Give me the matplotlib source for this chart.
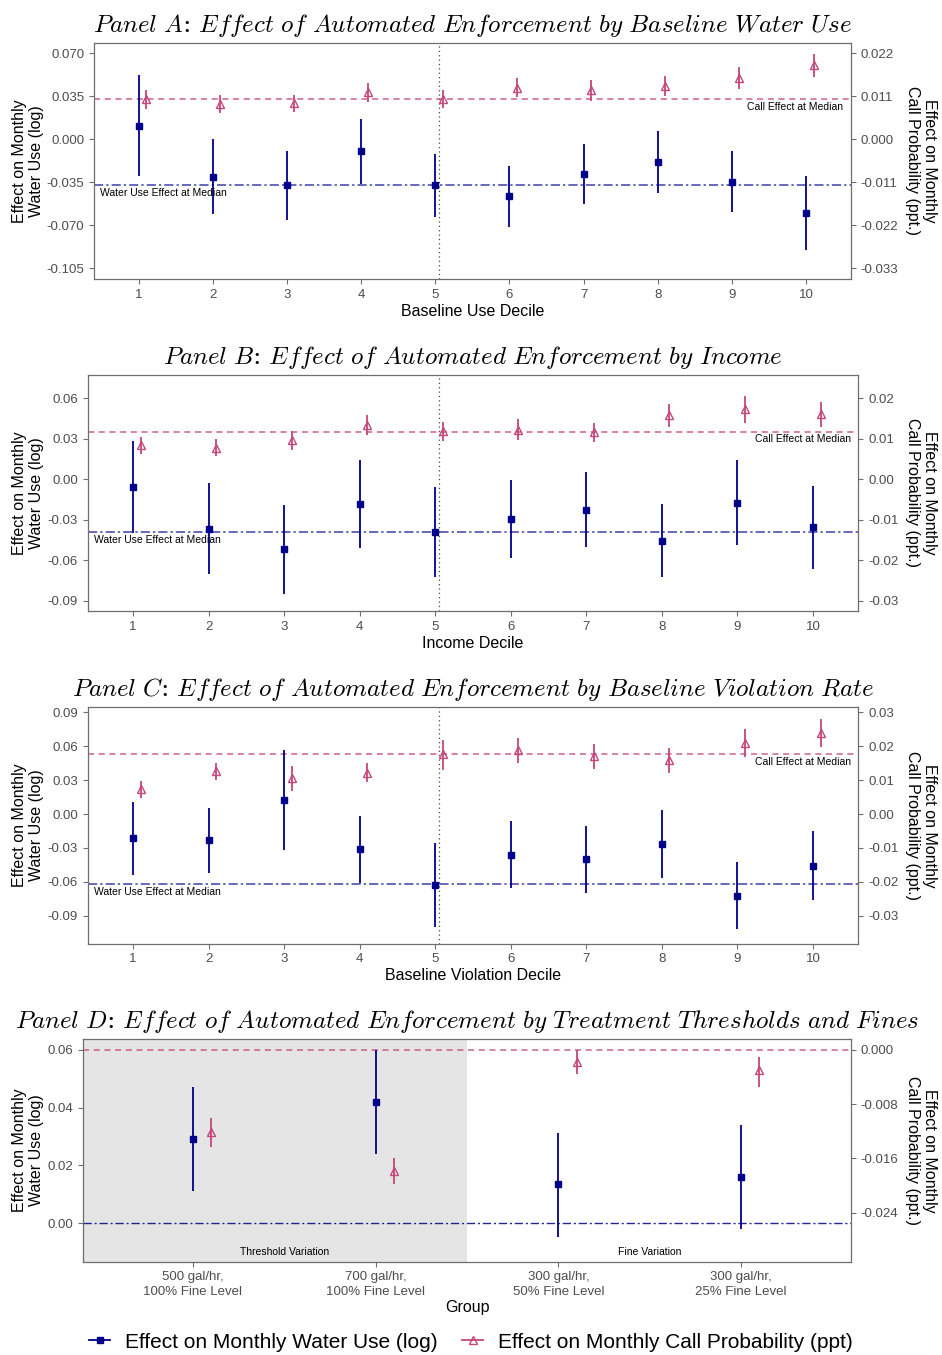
"""
Heterogeneity of automated enforcement effects: water use and call probability
by baseline use, income, violation rate and treatment arm (four stacked panels).
"""

import matplotlib
matplotlib.use("Agg")
import matplotlib.pyplot as plt
import matplotlib.transforms as mtransforms
from matplotlib.lines import Line2D
import numpy as np

plt.rcParams["font.family"] = ["Liberation Sans", "DejaVu Sans"]
plt.rcParams["mathtext.fontset"] = "cm"
plt.rcParams["axes.unicode_minus"] = False

BLUE = "#00008B"
PINK = "#C4467A"
TICK_GREY = "#4D4D4D"
FRAME_GREY = "#6E6E6E"

W, H = 942, 1355

# ---------------------------------------------------------------- data
deciles = np.arange(1, 11)

# Panel A: baseline use decile
a_water = [0.0111, -0.0304, -0.0374, -0.0098, -0.0374, -0.0464, -0.0282, -0.0184, -0.0345, -0.0600]
a_water_lo = [-0.0296, -0.0610, -0.0657, -0.0366, -0.0629, -0.0711, -0.0529, -0.0434, -0.0589, -0.0901]
a_water_hi = [0.0521, 0.0003, -0.0098, 0.0166, -0.0122, -0.0220, -0.0035, 0.0065, -0.0098, -0.0298]
a_call = [0.0103, 0.0090, 0.0092, 0.0121, 0.0104, 0.0132, 0.0126, 0.0136, 0.0156, 0.0189]
a_call_lo = [0.0077, 0.0067, 0.0071, 0.0096, 0.0079, 0.0107, 0.0097, 0.0111, 0.0128, 0.0158]
a_call_hi = [0.0125, 0.0113, 0.0113, 0.0144, 0.0127, 0.0156, 0.0152, 0.0161, 0.0184, 0.0218]
a_water_median = -0.0374
a_call_median = 0.0103

# Panel B: income decile
b_water = [-0.0059, -0.0368, -0.0518, -0.0183, -0.0390, -0.0294, -0.0224, -0.0454, -0.0173, -0.0355]
b_water_lo = [-0.0400, -0.0703, -0.0846, -0.0511, -0.0720, -0.0585, -0.0503, -0.0720, -0.0488, -0.0661]
b_water_hi = [0.0284, -0.0030, -0.0190, 0.0146, -0.0057, -0.0002, 0.0054, -0.0185, 0.0146, -0.0052]
b_call = [0.0086, 0.0078, 0.0097, 0.0134, 0.0119, 0.0123, 0.0117, 0.0158, 0.0173, 0.0161]
b_call_lo = [0.0063, 0.0058, 0.0072, 0.0109, 0.0094, 0.0098, 0.0093, 0.0130, 0.0140, 0.0130]
b_call_hi = [0.0105, 0.0100, 0.0120, 0.0160, 0.0141, 0.0150, 0.0139, 0.0185, 0.0205, 0.0190]
b_water_median = -0.0390
b_call_median = 0.0118

# Panel C: baseline violation decile
c_water = [-0.0215, -0.0233, 0.0127, -0.0312, -0.0625, -0.0360, -0.0401, -0.0265, -0.0722, -0.0457]
c_water_lo = [-0.0536, -0.0525, -0.0318, -0.0610, -0.0999, -0.0657, -0.0695, -0.0566, -0.1014, -0.0763]
c_water_hi = [0.0103, 0.0053, 0.0569, -0.0018, -0.0256, -0.0065, -0.0103, 0.0032, -0.0427, -0.0153]
c_call = [0.0073, 0.0126, 0.0105, 0.0120, 0.0176, 0.0189, 0.0171, 0.0159, 0.0210, 0.0240]
c_call_lo = [0.0048, 0.0099, 0.0068, 0.0094, 0.0130, 0.0151, 0.0133, 0.0122, 0.0169, 0.0197]
c_call_hi = [0.0096, 0.0150, 0.0141, 0.0149, 0.0219, 0.0224, 0.0205, 0.0193, 0.0250, 0.0280]
c_water_median = -0.0622
c_call_median = 0.0176

# Panel D: treatment arms
groups = ["500 gal/hr,\n100% Fine Level", "700 gal/hr,\n100% Fine Level",
          "300 gal/hr,\n50% Fine Level", "300 gal/hr,\n25% Fine Level"]
d_water = [0.0292, 0.0421, 0.0134, 0.0161]
d_water_lo = [0.0112, 0.0238, -0.0047, -0.0021]
d_water_hi = [0.0472, 0.0600, 0.0313, 0.0339]
d_call = [-0.0121, -0.0178, -0.0018, -0.0030]
d_call_lo = [-0.0143, -0.0197, -0.0036, -0.0055]
d_call_hi = [-0.0100, -0.0160, 0.0000, -0.0011]

water_ticks_a = [0.070, 0.035, 0.000, -0.035, -0.070, -0.105]
call_ticks_a = [0.022, 0.011, 0.000, -0.011, -0.022, -0.033]
water_ticks_b = [0.06, 0.03, 0.00, -0.03, -0.06, -0.09]
call_ticks_b = [0.02, 0.01, 0.00, -0.01, -0.02, -0.03]
water_ticks_c = [0.09, 0.06, 0.03, 0.00, -0.03, -0.06, -0.09]
call_ticks_c = [0.03, 0.02, 0.01, 0.00, -0.01, -0.02, -0.03]
water_ticks_d = [0.06, 0.04, 0.02, 0.00]
call_ticks_d = [0.000, -0.008, -0.016, -0.024]

TITLE_KW = dict(fontsize=18, pad=8, family=["DejaVu Serif"])
LABEL_KW = dict(fontsize=11.5, linespacing=1.15)


# ---------------------------------------------------------------- helpers
def px_axes(fig, left, top, right, bottom):
    return fig.add_axes([left / W, 1 - bottom / H, (right - left) / W, (bottom - top) / H])


def style_axes(ax):
    for sp in ax.spines.values():
        sp.set_color(FRAME_GREY)
        sp.set_linewidth(0.9)
    ax.tick_params(colors=FRAME_GREY, labelcolor=TICK_GREY, labelsize=9.5, length=3.5, width=0.8)


def left_label(fig, ax):
    # same x position for every panel, whatever the tick label widths
    ax.set_ylabel("Effect on Monthly\nWater Use (log)", **LABEL_KW)
    trans = mtransforms.blended_transform_factory(fig.transFigure, ax.transAxes)
    ax.yaxis.set_label_coords(44 / W, 0.5, transform=trans)


def mtitle(head, rest):
    # italic CM for the words; colon kept outside math so it has no relation spacing
    esc = lambda s: s.replace(" ", r"\ ")
    return r"$\mathit{" + esc(head) + "}$: " + r"$\mathit{" + esc(rest) + "}$"


def add_secondary(ax, fwd, inv, ticks, fmt):
    sec = ax.secondary_yaxis("right", functions=(inv, fwd))
    sec.set_yticks(ticks)
    sec.set_yticklabels([fmt.format(v) for v in ticks])
    sec.spines["right"].set_visible(False)
    sec.tick_params(colors=FRAME_GREY, labelcolor=TICK_GREY, labelsize=9.5, length=3.5, width=0.8)
    sec.set_ylabel("Effect on Monthly\nCall Probability (ppt.)", rotation=270, labelpad=28, **LABEL_KW)
    return sec


def draw_series(ax, x, water, wlo, whi, call, clo, chi, fwd, offset=0.1):
    x = np.asarray(x, dtype=float)
    ax.vlines(x, wlo, whi, color=BLUE, lw=1.3, zorder=3)
    ax.plot(x, water, ls="none", marker="s", ms=4, color=BLUE, zorder=4)
    xc = x + offset
    ax.vlines(xc, fwd(np.asarray(clo)), fwd(np.asarray(chi)), color=PINK, lw=1.3, zorder=3)
    ax.plot(xc, fwd(np.asarray(call)), ls="none", marker="^", ms=6, mfc="none",
            mec=PINK, mew=1.0, zorder=4)


def panel(fig, box, title, xlabel, ylim, wticks, cticks, wfmt, cfmt, fwd, inv, data,
          water_med, call_med):
    ax = px_axes(fig, *box)
    style_axes(ax)
    draw_series(ax, deciles, *data, fwd)
    ax.axhline(water_med, color=BLUE, lw=1.1, ls=(0, (6, 2, 1.5, 2)), alpha=0.75, zorder=2)
    ax.axhline(fwd(call_med), color=PINK, lw=1.1, ls=(0, (4, 3)), alpha=0.85, zorder=2)
    ax.axvline(5.05, color="#444444", lw=0.9, ls=(0, (1, 2.5)), zorder=1)
    ax.annotate("Water Use Effect at Median", xy=(0.48, water_med), xytext=(0, -2),
                textcoords="offset points", ha="left", va="top", fontsize=7.5)
    ax.annotate("Call Effect at Median", xy=(10.5, fwd(call_med)), xytext=(0, -2),
                textcoords="offset points", ha="right", va="top", fontsize=7.5)
    ax.set_xlim(0.4, 10.6)
    ax.set_ylim(*ylim)
    ax.set_xticks(deciles)
    ax.set_yticks(wticks)
    ax.set_yticklabels([wfmt.format(v) for v in wticks])
    ax.set_xlabel(xlabel, fontsize=11.5, labelpad=2)
    left_label(fig, ax)
    ax.set_title(title, **TITLE_KW)
    add_secondary(ax, fwd, inv, cticks, cfmt)
    return ax


# ---------------------------------------------------------------- figure
fig = plt.figure(figsize=(W / 100, H / 100), dpi=100)

ka = 0.035 / 0.011
panel(fig, (94, 42.7, 850.7, 279.3),
      mtitle("Panel A", "Effect of Automated Enforcement by Baseline Water Use"),
      "Baseline Use Decile", (-0.114, 0.0786), water_ticks_a, call_ticks_a, "{:.3f}", "{:.3f}",
      lambda v: v * ka, lambda v: v / ka,
      (a_water, a_water_lo, a_water_hi, a_call, a_call_lo, a_call_hi),
      a_water_median, a_call_median)

panel(fig, (87.7, 374.7, 858.3, 611.3),
      mtitle("Panel B", "Effect of Automated Enforcement by Income"),
      "Income Decile", (-0.0977, 0.0775), water_ticks_b, call_ticks_b, "{:.2f}", "{:.2f}",
      lambda v: v * 3.0, lambda v: v / 3.0,
      (b_water, b_water_lo, b_water_hi, b_call, b_call_lo, b_call_hi),
      b_water_median, b_call_median)

panel(fig, (87.7, 707.3, 858.3, 943.7),
      mtitle("Panel C", "Effect of Automated Enforcement by Baseline Violation Rate"),
      "Baseline Violation Decile", (-0.1146, 0.0943), water_ticks_c, call_ticks_c, "{:.2f}", "{:.2f}",
      lambda v: v * 3.0, lambda v: v / 3.0,
      (c_water, c_water_lo, c_water_hi, c_call, c_call_lo, c_call_hi),
      c_water_median, c_call_median)

# Panel D: treatment arms, secondary axis is shifted so call = 0 sits at 0.06
kd, shift = 2.35, 0.06
fwd_d = lambda v: v * kd + shift
inv_d = lambda v: (v - shift) / kd

ax = px_axes(fig, 83.3, 1039.3, 850.7, 1261.7)
style_axes(ax)
pos = np.arange(1, len(groups) + 1)
ax.axvspan(0.4, 2.5, color="#E5E5E5", lw=0, zorder=0)
draw_series(ax, pos, d_water, d_water_lo, d_water_hi, d_call, d_call_lo, d_call_hi, fwd_d)
ax.axhline(0.0, color=BLUE, lw=1.0, ls=(0, (6, 2, 1.5, 2)), alpha=0.85, zorder=2)
ax.axhline(fwd_d(0.0), color=PINK, lw=1.1, ls=(0, (4, 3)), alpha=0.85, zorder=2)
ax.text(1.5, -0.0102, "Threshold Variation", ha="center", va="center", fontsize=7.5)
ax.text(3.5, -0.0102, "Fine Variation", ha="center", va="center", fontsize=7.5)
ax.set_xlim(0.4, 4.6)
ax.set_ylim(-0.0134, 0.0637)
ax.set_xticks(pos)
ax.set_xticklabels(groups, linespacing=1.25)
ax.set_yticks(water_ticks_d)
ax.set_yticklabels(["{:.2f}".format(v) for v in water_ticks_d])
ax.set_xlabel("Group", fontsize=11.5, labelpad=2)
left_label(fig, ax)
ax.set_title(mtitle("Panel D", "Effect of Automated Enforcement by Treatment Thresholds and Fines"),
             **TITLE_KW)
add_secondary(ax, fwd_d, inv_d, call_ticks_d, "{:.3f}")

handles = [
    Line2D([], [], color=BLUE, lw=1.3, marker="s", ms=4),
    Line2D([], [], color=PINK, lw=1.3, marker="^", ms=6, mfc="none", mec=PINK),
]
fig.legend(handles, ["Effect on Monthly Water Use (log)", "Effect on Monthly Call Probability (ppt)"],
           loc="center", bbox_to_anchor=(0.5, 1 - 1342 / H), ncol=2, frameon=False,
           fontsize=15, handlelength=1.0, handletextpad=0.7, columnspacing=1.2)

fig.savefig("out.png", dpi=100)
